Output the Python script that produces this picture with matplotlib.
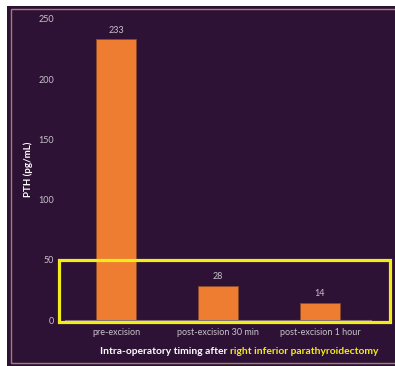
import matplotlib
matplotlib.use('Agg')
from matplotlib import pyplot as plt
from matplotlib.patches import Rectangle
from matplotlib.text import Annotation

# intra-operative PTH readings
timings = ['pre-excision', 'post-excision 30 min', 'post-excision 1 hour']
pth = [233, 28, 14]
y_ticks = [0, 50, 100, 150, 200, 250]

bg = '#2e1236'
bar_color = '#ef7d31'
label_grey = '#c9c1cb'
yellow = '#f2ec1a'

plt.rcParams['font.family'] = ['Lato', 'DejaVu Sans']

W, H = 395, 366
fig = plt.figure(figsize=(W / 100, H / 100), dpi=100, facecolor='white')


def px(x0, y0, x1, y1):
    """pixel box (top-left origin) -> figure fraction rect"""
    return x0 / W, 1 - y1 / H, (x1 - x0) / W, (y1 - y0) / H


# dark panel and thin tan frame
x, y, w, h = px(7, 6, 400, 370)
fig.patches.append(Rectangle((x, y), w, h, transform=fig.transFigure,
                             facecolor=bg, edgecolor='none', zorder=-10))
x, y, w, h = px(11, 9, 400, 363)
fig.patches.append(Rectangle((x, y), w, h, transform=fig.transFigure,
                             facecolor='none', edgecolor='#a08068', lw=1.0, zorder=-9))

ax = fig.add_axes(px(65, 19, 371, 320))
ax.set_facecolor('none')

pos = range(len(timings))
bars = ax.bar(pos, pth, width=0.4, color=bar_color, edgecolor='#8a4a2a', linewidth=0.6, zorder=3)
for b, v in zip(bars, pth):
    ax.text(b.get_x() + b.get_width() / 2, v + 4, str(v), ha='center', va='bottom',
            fontsize=6.5, color=label_grey)

ax.set_xlim(-0.5, 2.5)
ax.set_ylim(0, 250)
ax.set_yticks(y_ticks)
ax.set_xticks(list(pos))
ax.set_xticklabels(timings)
ax.tick_params(axis='both', length=0, labelsize=6.5, labelcolor=label_grey)
ax.tick_params(axis='y', pad=8)
ax.tick_params(axis='x', pad=6)
for s in ['top', 'right', 'left']:
    ax.spines[s].set_visible(False)
ax.spines['bottom'].set_color('#7a6a7c')
ax.spines['bottom'].set_linewidth(0.8)

ax.set_ylabel('PTH (pg/mL)', color='white', fontsize=7, fontweight='bold', labelpad=4)

# two-colour x axis title
t1 = fig.text(100 / W, 1 - 351 / H, 'Intra-operatory timing after ', color='white',
              fontsize=7.4, fontweight='bold', ha='left', va='center')
fig.canvas.draw()
fig.add_artist(Annotation(
    'right inferior parathyroidectomy', xy=(1, 0), xycoords=t1, va='bottom',
    ha='left', color=yellow, fontsize=7.4, fontweight='bold', annotation_clip=False))

# highlight box around the low readings
x, y, w, h = px(58.5, 259.5, 390, 322)
fig.patches.append(Rectangle((x, y), w, h, transform=fig.transFigure,
                             facecolor='none', edgecolor=yellow, lw=2.3, zorder=5))

fig.savefig('out.png', dpi=100, facecolor=fig.get_facecolor())
